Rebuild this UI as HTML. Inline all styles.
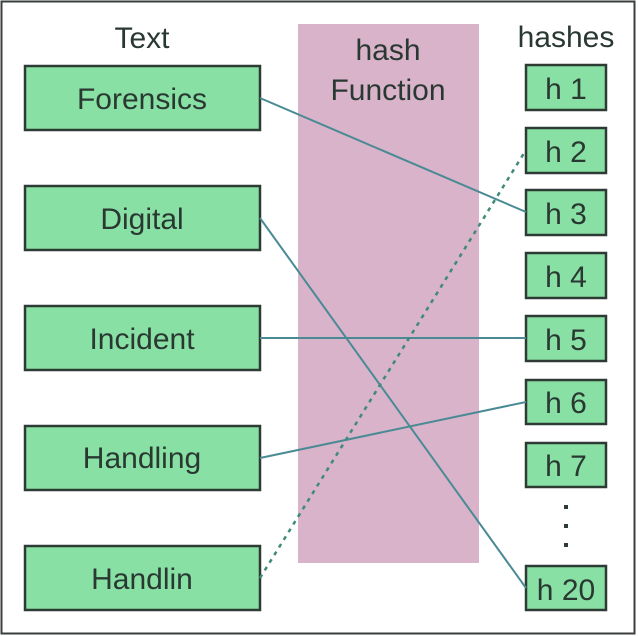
<!DOCTYPE html>
<html><head><meta charset="utf-8"><style>
html,body{margin:0;padding:0;background:#fff}
svg{display:block}
text{font-family:"Liberation Sans",sans-serif;fill:#2a3832;font-size:30px;text-anchor:middle}
</style></head><body>
<svg width="638" height="636" viewBox="0 0 638 636" xmlns="http://www.w3.org/2000/svg">
<rect x="1.5" y="1.5" width="633" height="632" fill="#fff" stroke="#3a3f3c" stroke-width="2"/>
<rect x="298" y="24" width="181" height="539" fill="#d9b3ca"/>
<text x="142" y="48">Text</text>
<text x="388" y="60">hash</text>
<text x="388" y="100">Function</text>
<text x="566" y="47">hashes</text>
<g fill="#88e0a4" stroke="#2e3b35" stroke-width="2.5">
<rect x="25" y="66" width="235" height="64"/>
<rect x="25" y="186" width="235" height="64"/>
<rect x="25" y="306" width="235" height="64"/>
<rect x="25" y="426" width="235" height="64"/>
<rect x="25" y="546" width="235" height="64"/>
<rect x="526" y="65" width="80" height="45"/>
<rect x="526" y="128" width="80" height="45"/>
<rect x="526" y="190" width="80" height="45"/>
<rect x="526" y="253" width="80" height="45"/>
<rect x="526" y="316" width="80" height="45"/>
<rect x="526" y="380" width="80" height="44"/>
<rect x="526" y="443" width="80" height="44"/>
<rect x="526" y="566" width="80" height="44"/>
</g>
<g stroke="#4a8a94" stroke-width="2" fill="none">
<line x1="260" y1="98" x2="526" y2="212"/>
<line x1="260" y1="218" x2="526" y2="588"/>
<line x1="260" y1="338" x2="526" y2="338"/>
<line x1="260" y1="458" x2="526" y2="402"/>
</g>
<line x1="260" y1="578" x2="526" y2="150" stroke="#3f8a7a" stroke-width="2.5" stroke-dasharray="4 5"/>
<g fill="#2e3b35"><rect x="564" y="505" width="4" height="4"/><rect x="564" y="524" width="4" height="4"/><rect x="564" y="543" width="4" height="4"/></g>
<text x="142" y="109">Forensics</text>
<text x="142" y="229">Digital</text>
<text x="142" y="349">Incident</text>
<text x="142" y="468">Handling</text>
<text x="142" y="589">Handlin</text>
<text x="566" y="99">h 1</text>
<text x="566" y="162">h 2</text>
<text x="566" y="224">h 3</text>
<text x="566" y="287">h 4</text>
<text x="566" y="350">h 5</text>
<text x="566" y="413">h 6</text>
<text x="566" y="476">h 7</text>
<text x="566" y="600">h 20</text>
</svg>
</body></html>
